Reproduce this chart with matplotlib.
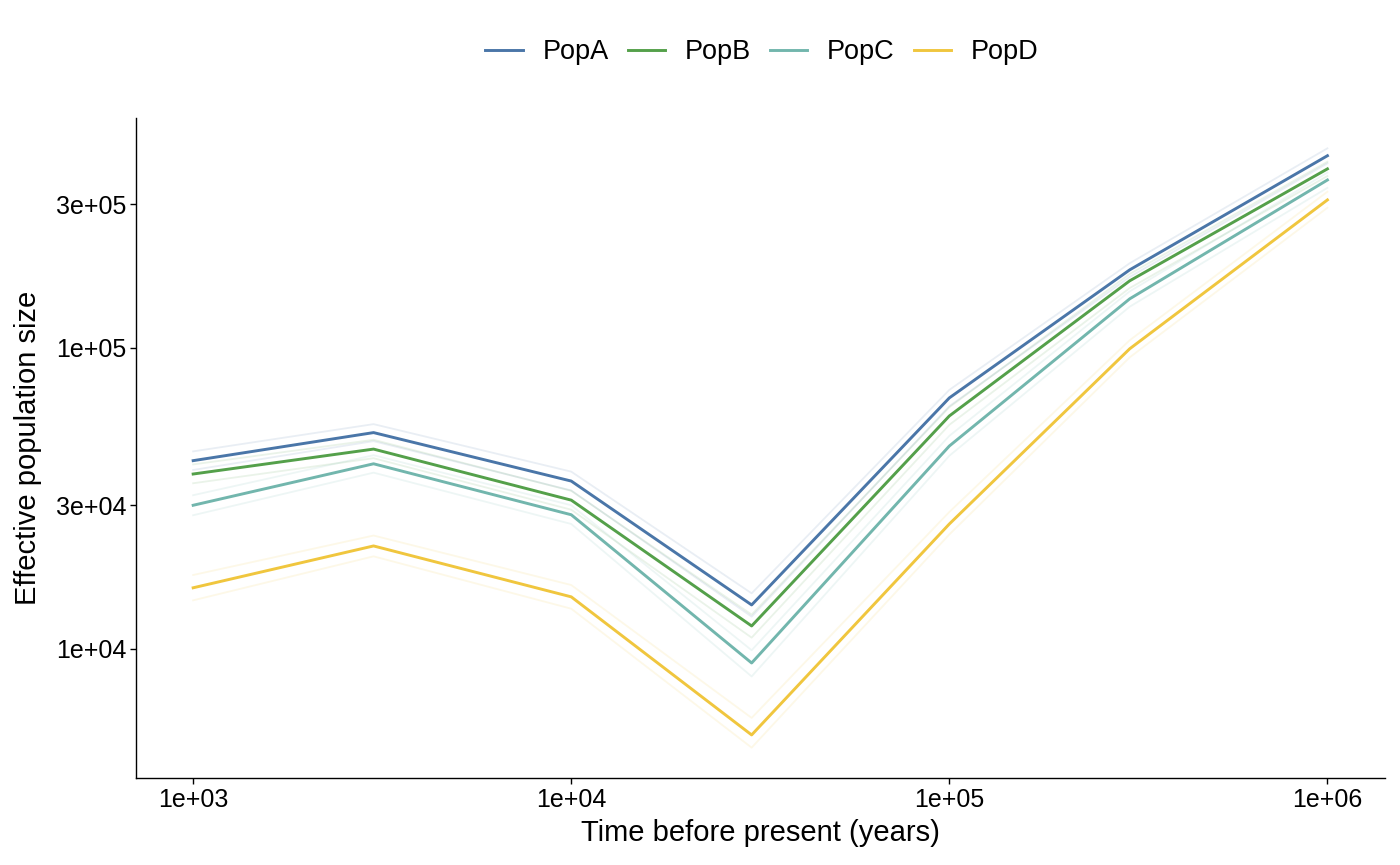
import matplotlib
matplotlib.use('Agg')
import matplotlib.pyplot as plt
from matplotlib.ticker import FixedLocator, NullLocator

plt.rcParams['font.family'] = ['Liberation Sans', 'DejaVu Sans']

years = [1e3, 3e3, 1e4, 3e4, 1e5, 3e5, 1e6]
pops = ['PopA', 'PopB', 'PopC', 'PopD']
colors = ['#4a76a8', '#54a04a', '#72b6ad', '#f0c63e']

popA = [42200, 52300, 36100, 14000, 68200, 181600, 434600]
popA_hi = [45300, 55800, 38800, 15300, 72500, 191000, 460000]
popA_lo = [39300, 49000, 33600, 12800, 64000, 172000, 410000]

popB = [38100, 46100, 31200, 11920, 59400, 167000, 393000]
popB_hi = [41000, 49500, 33500, 13000, 63500, 176000, 415000]
popB_lo = [35500, 43000, 29000, 10900, 55500, 158000, 372000]

popC = [30000, 41200, 27900, 8980, 47200, 145500, 361000]
popC_hi = [32400, 44000, 30000, 9900, 51000, 154000, 382000]
popC_lo = [27800, 38500, 26000, 8100, 43800, 137000, 340000]

popD = [15960, 21980, 14890, 5180, 26000, 99300, 310000]
popD_hi = [17600, 23800, 16300, 5900, 28500, 106000, 330000]
popD_lo = [14500, 20300, 13600, 4700, 24000, 93000, 292000]

mains = [popA, popB, popC, popD]
his = [popA_hi, popB_hi, popC_hi, popD_hi]
los = [popA_lo, popB_lo, popC_lo, popD_lo]

fig = plt.figure(figsize=(14, 8.65), dpi=100)
ax = fig.add_axes([136/1400, 1-778/865, (1385-136)/1400, (778-118)/865])

for name, c, m, hi, lo in zip(pops, colors, mains, his, los):
    ax.plot(years, hi, color=c, lw=1.3, alpha=0.12)
    ax.plot(years, lo, color=c, lw=1.3, alpha=0.12)
for name, c, m in zip(pops, colors, mains):
    ax.plot(years, m, color=c, lw=2.1, label=name)

ax.set_xscale('log')
ax.set_yscale('log')
ax.set_xlim(706, 1.42e6)
ax.set_ylim(3726, 580000)

ax.xaxis.set_major_locator(FixedLocator([1e3, 1e4, 1e5, 1e6]))
ax.xaxis.set_minor_locator(NullLocator())
ax.set_xticklabels(['1e+03', '1e+04', '1e+05', '1e+06'])
ax.yaxis.set_major_locator(FixedLocator([1e4, 3e4, 1e5, 3e5]))
ax.yaxis.set_minor_locator(NullLocator())
ax.set_yticklabels(['1e+04', '3e+04', '1e+05', '3e+05'])

for s in ['top', 'right']:
    ax.spines[s].set_visible(False)
for s in ['left', 'bottom']:
    ax.spines[s].set_linewidth(1.0)
ax.tick_params(labelsize=18, length=4, width=1, colors='black', pad=3)

ax.set_xlabel('Time before present (years)', fontsize=21, labelpad=5)
ax.set_ylabel('Effective population size', fontsize=21, labelpad=10)

fig.legend(*ax.get_legend_handles_labels(), loc='center', bbox_to_anchor=(762/1400, 1-52/865),
           ncol=4, frameon=False, fontsize=19.5, handlelength=1.37, columnspacing=0.7,
           handletextpad=0.74)

fig.savefig('out.png', dpi=100)
